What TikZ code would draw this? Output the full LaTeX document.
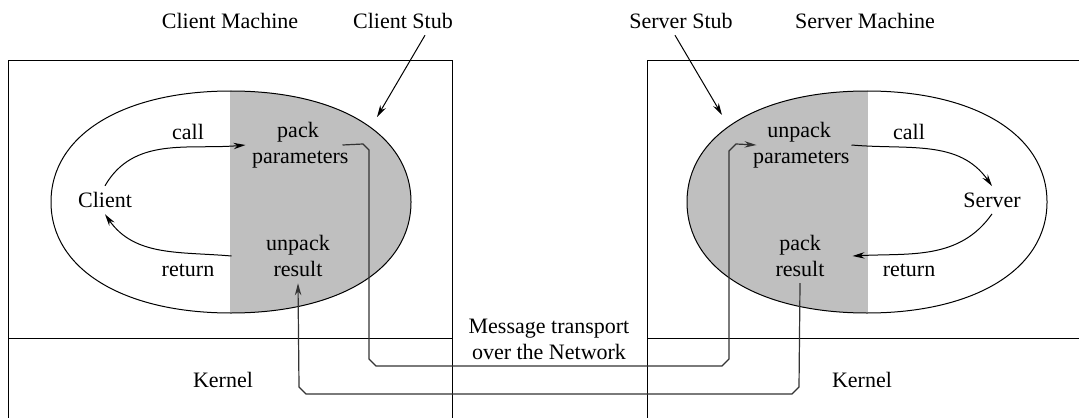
\documentclass[tikz,border=0pt]{standalone}
\usepackage{fontspec}
\setmainfont{Liberation Serif}
\usetikzlibrary{arrows.meta}

\begin{document}
\begin{tikzpicture}[x=0.5pt,y=-0.5pt,line width=0.5pt,>={Stealth[length=6pt,width=3.2pt]},
  lbl/.style={font=\fontsize{11}{13}\selectfont,align=center,inner sep=3pt},
  stub/.style={lbl,text width=46pt},
  net/.style={line width=0.6pt,draw=black!80}]
  \useasboundingbox (0,0) rectangle (1079,417);
  \clip (0,0) rectangle (1079,417);

  % machines and kernel
  \draw (8,61) rectangle (452,430);
  \draw (647,61) rectangle (1090,430);
  \draw (8,338) -- (452,338);
  \draw (647,338) -- (1090,338);

  % stubs
  \begin{scope}
    \clip (51,202) .. controls (51,135) and (123,91) .. (231,91) .. controls (339,91) and (411,135) .. (411,202)
      .. controls (411,269) and (339,313) .. (231,313) .. controls (123,313) and (51,269) .. (51,202) -- cycle;
    \fill[black!25] (230,80) rectangle (420,320);
  \end{scope}
  \draw (51,202) .. controls (51,135) and (123,91) .. (231,91) .. controls (339,91) and (411,135) .. (411,202)
    .. controls (411,269) and (339,313) .. (231,313) .. controls (123,313) and (51,269) .. (51,202) -- cycle;
  \begin{scope}
    \clip (687,202) .. controls (687,135) and (759,91) .. (867,91) .. controls (975,91) and (1047,135) .. (1047,202)
      .. controls (1047,269) and (975,313) .. (867,313) .. controls (759,313) and (687,269) .. (687,202) -- cycle;
    \fill[black!25] (680,80) rectangle (868,320);
  \end{scope}
  \draw (687,202) .. controls (687,135) and (759,91) .. (867,91) .. controls (975,91) and (1047,135) .. (1047,202)
    .. controls (1047,269) and (975,313) .. (867,313) .. controls (759,313) and (687,269) .. (687,202) -- cycle;

  \node[lbl] (cmach) at (230,21) {Client Machine};
  \node[lbl] (cstub) at (403,21) {Client Stub};
  \node[lbl] (sstub) at (681,21) {Server Stub};
  \node[lbl] (smach) at (865,21) {Server Machine};

  \node[lbl] (client) at (105,200) {Client};
  \node[lbl] (ccall) at (188,132) {call};
  \node[lbl] (cret) at (188,270) {return};
  \node[stub] (cpp) at (298,145) {pack\\parameters};
  \node[stub] (cur) at (298,256) {unpack\\result};

  \node[lbl] (server) at (992,200) {Server};
  \node[lbl] (scall) at (909,132) {call};
  \node[lbl] (sret) at (909,270) {return};
  \node[stub] (sup) at (799,145) {unpack\\parameters};
  \node[stub] (spr) at (800,256) {pack\\result};

  \node[lbl] (msg) at (549,339) {Message transport\\over the Network};
  \node[lbl] (ckern) at (223,380) {Kernel};
  \node[lbl] (skern) at (862,380) {Kernel};

  \coordinate (ctip) at (377,117);
  \coordinate (stip) at (722,115);

  \path[->]
    ([xshift=11pt]cstub.south) edge (ctip)
    ([xshift=-3pt]sstub.south) edge (stip)
    (client.north) edge [out=60, in=185] (cpp.west)
    ([xshift=-7pt]cur.west) edge [out=175, in=-55] (client.south)
    (sup.east) edge [out=-5, in=125] (server.north)
    (server.south) edge [out=-125, in=3] (spr.east)
    ;

  % message transport
  \draw[net,->] ([xshift=-4pt]cpp.east) -- (363,144) -- (369,150) -- (369,359)
    -- (376,366) -- (722,366) -- (729,359) -- (729,151) -- (736,144) -- ([xshift=5pt]sup.west);
  \draw[net,->] (spr.south) -- (799,387) -- (792,394) -- (306,394) -- (299,387)
    -- (cur.south);
\end{tikzpicture}
\end{document}
